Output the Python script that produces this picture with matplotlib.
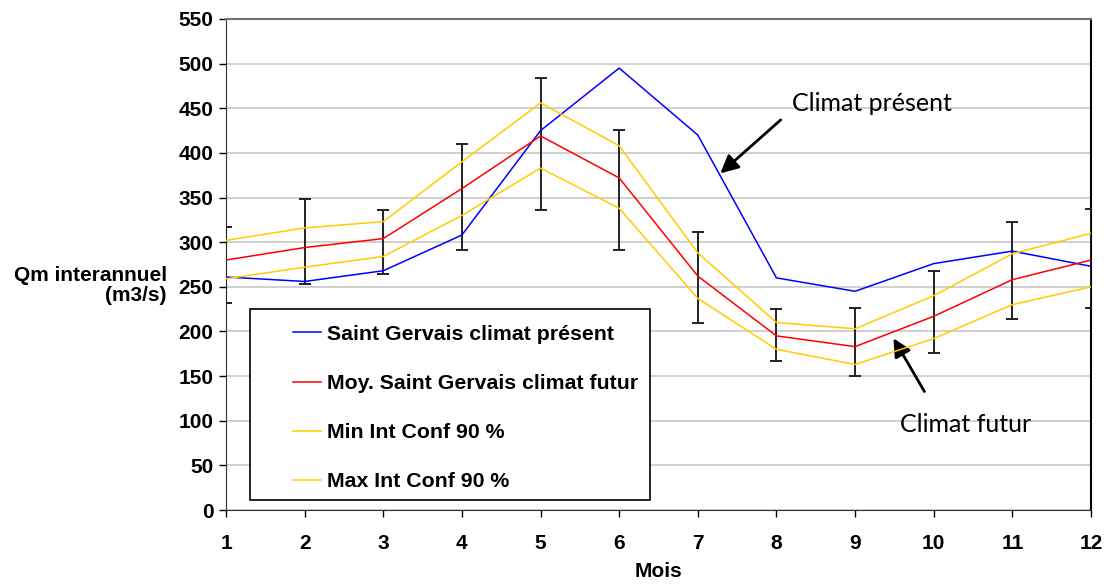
import matplotlib
matplotlib.use('Agg')
import matplotlib.pyplot as plt
from matplotlib.patches import Rectangle

# donnees
mois = [1, 2, 3, 4, 5, 6, 7, 8, 9, 10, 11, 12]
present = [261, 256, 268, 308, 425, 495, 420, 260, 245, 276, 290, 273]
futur_moy = [280, 294, 304, 360, 419, 372, 262, 195, 183, 217, 258, 280]
futur_min = [259, 272, 284, 330, 383, 338, 237, 180, 163, 192, 230, 250]
futur_max = [302, 316, 323, 390, 456, 408, 288, 210, 203, 240, 287, 310]
barre_bas = [232, 253, 264, 291, 336, 291, 210, 167, 150, 176, 214, 226]
barre_haut = [317, 348, 336, 410, 484, 426, 311, 225, 226, 268, 323, 337]

noms = ['Saint Gervais climat présent', 'Moy. Saint Gervais climat futur',
        'Min Int Conf 90 %', 'Max Int Conf 90 %']

plt.rcParams['font.family'] = ['Liberation Sans', 'DejaVu Sans']
plt.rcParams['font.weight'] = 'bold'

fig = plt.figure(figsize=(11.08, 5.85), dpi=100)
ax = fig.add_axes([226/1108, 75/585, 865/1108, 491/585])

ax.set_xlim(1, 12)
ax.set_ylim(0, 550)
ax.set_xticks(mois)
ax.set_yticks(range(0, 551, 50))
ax.grid(axis='y', color='#c8c8c8', lw=1.2)
ax.set_axisbelow(True)
ax.tick_params(labelsize=15, length=5, width=1, direction='out', pad=4)
ax.tick_params(axis='x', pad=12)
for lab in ax.get_xticklabels() + ax.get_yticklabels():
    lab.set_fontweight('bold')
ax.spines['top'].set_color('#707070')
ax.spines['top'].set_linewidth(1.5)
ax.spines['right'].set_linewidth(1.5)
ax.spines['left'].set_color('#333333')
ax.spines['bottom'].set_color('#333333')

# barres d'erreur
err = [[m - b for m, b in zip(futur_moy, barre_bas)],
       [h - m for m, h in zip(futur_moy, barre_haut)]]
ax.errorbar(mois, futur_moy, yerr=err, fmt='none', ecolor='#222222',
            elinewidth=1.4, capsize=4, capthick=1.4, zorder=3)

l1, = ax.plot(mois, present, color='#0000ff', lw=1.1, zorder=4)
l2, = ax.plot(mois, futur_moy, color='#ff0000', lw=1.1, zorder=4)
l3, = ax.plot(mois, futur_min, color='#ffcc00', lw=1.1, zorder=4)
l4, = ax.plot(mois, futur_max, color='#ffcc00', lw=1.1, zorder=4)

# cadre de la legende
ax.add_patch(Rectangle((0.0277, 0.0204), 0.4625, 0.3885, transform=ax.transAxes,
                       facecolor='white', edgecolor='black', lw=1.2, zorder=5))
leg = ax.legend([l1, l2, l3, l4], noms, loc='upper left',
                bbox_to_anchor=(0.078, 0.377), frameon=False,
                prop={'size': 15.3, 'weight': 'bold'}, borderpad=0,
                borderaxespad=0, handlelength=1.3, handletextpad=0.3,
                labelspacing=1.42)
leg.set_zorder(6)

ax.set_xlabel('Mois', fontsize=15, fontweight='bold', labelpad=7)
fig.text(167/1108, 0.512, 'Qm interannuel\n(m3/s)', ha='right', va='center',
         ma='right', fontsize=15, fontweight='bold', linespacing=1.1)

# fleches
ax.annotate('', xy=(7.26, 375), xytext=(8.08, 439),
            arrowprops=dict(arrowstyle='-|>', lw=2, color='black', mutation_scale=27))
ax.text(8.2, 455, 'Climat présent', fontsize=18, family='Lato', fontweight='normal',
        ha='left', va='center')
ax.annotate('', xy=(9.47, 195), xytext=(9.9, 130),
            arrowprops=dict(arrowstyle='-|>', lw=2, color='black', mutation_scale=27))
ax.text(9.57, 96, 'Climat futur', fontsize=18, family='Lato', fontweight='normal',
        ha='left', va='center')

fig.savefig('out.png', dpi=100)
